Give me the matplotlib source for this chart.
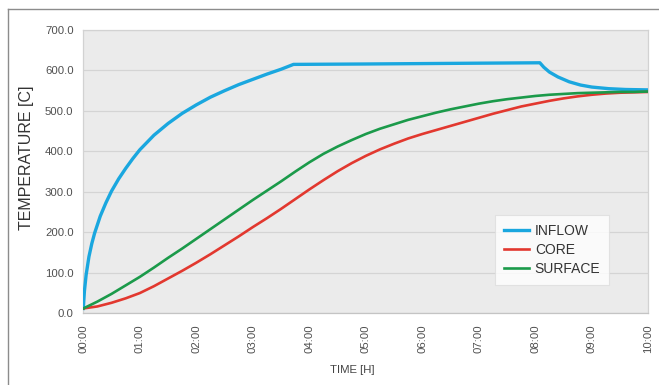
#!/usr/bin/env python3
"""
Temperature curves: INFLOW / CORE / SURFACE over 10 hours
"""

import matplotlib
matplotlib.use("Agg")
import matplotlib.pyplot as plt
from matplotlib.lines import Line2D

# time in hours, temperature in C
inflow_t = [0, 0.02, 0.05, 0.1, 0.15, 0.2, 0.3, 0.4, 0.5, 0.625, 0.75,
            0.875, 1.0, 1.25, 1.5, 1.75, 2.0, 2.25, 2.5, 2.75, 3.0, 3.25,
            3.5, 3.72, 5.0, 6.0, 7.0, 8.08, 8.15, 8.25, 8.4, 8.6, 8.8, 9.0,
            9.3, 9.6, 10.0]
inflow_v = [12, 55, 95, 140, 172, 198, 240, 273, 302, 332, 358,
            382, 404, 440, 469, 494, 515, 534, 550, 565, 578, 591,
            603, 615, 616, 617, 618, 619, 608, 596, 584, 572, 564, 559,
            555, 553, 552]

step_t = [0, 0.25, 0.5, 0.75, 1.0, 1.25, 1.5, 1.75, 2.0, 2.25, 2.5, 2.75,
          3.0, 3.25, 3.5, 3.75, 4.0, 4.25, 4.5, 4.75, 5.0, 5.25, 5.5, 5.75,
          6.0, 6.25, 6.5, 6.75, 7.0, 7.25, 7.5, 7.75, 8.0, 8.25, 8.5, 8.75,
          9.0, 9.25, 9.5, 9.75, 10.0]
core_v = [12, 17, 26, 37, 50, 67, 86, 105, 125, 146, 168, 190,
          213, 235, 258, 282, 306, 329, 351, 371, 389, 405, 419, 432,
          443, 453, 463, 473, 483, 493, 502, 511, 518, 525, 531, 536,
          540, 543, 545, 546, 547]
surface_v = [12, 29, 48, 69, 90, 113, 137, 160, 184, 208, 232, 256,
             280, 303, 326, 350, 373, 394, 412, 428, 443, 456, 467, 478,
             487, 496, 504, 511, 518, 524, 529, 533, 537, 540, 542, 544,
             545, 546, 547, 547, 548]

hour_ticks = list(range(0, 11))
hour_labels = [f"{h:02d}:00" for h in hour_ticks]
temp_ticks = list(range(0, 701, 100))

BLUE = "#1aa7df"
RED = "#e2382f"
GREEN = "#1b9a4a"


def plot_curves():
    plt.rcParams["font.family"] = ["Liberation Sans", "DejaVu Sans"]
    fig = plt.figure(figsize=(6.59, 3.85), dpi=100)
    ax = fig.add_axes([0.1264, 0.1862, 0.8574, 0.7359])
    ax.set_facecolor("#ebebeb")

    ax.plot(inflow_t, inflow_v, color=BLUE, lw=2.4, label="INFLOW",
            solid_joinstyle="round", zorder=3)
    ax.plot(step_t, core_v, color=RED, lw=1.9, label="CORE", zorder=3)
    ax.plot(step_t, surface_v, color=GREEN, lw=1.9, label="SURFACE", zorder=4)

    ax.set_xlim(0, 10)
    ax.set_ylim(0, 700)
    ax.set_xticks(hour_ticks)
    ax.set_xticklabels(hour_labels, rotation=90)
    ax.set_yticks(temp_ticks)
    ax.set_yticklabels([f"{v:.1f}" for v in temp_ticks])
    ax.tick_params(axis="both", length=0, labelsize=8.2, colors="#505050")
    ax.tick_params(axis="y", pad=7)
    ax.tick_params(axis="x", pad=8)

    ax.grid(axis="y", color="#d4d4d4", lw=0.9)
    ax.set_axisbelow(True)
    for side, spine in ax.spines.items():
        spine.set_color("#d2d2d2")
        spine.set_linewidth(0.9)
    ax.spines["bottom"].set_color("#c4c4c4")

    ax.set_ylabel("TEMPERATURE [C]", fontsize=11.5, color="#333333")
    ax.yaxis.set_label_coords(-0.088, 0.55)
    fig.text(352 / 659, 1 - 370 / 385, "TIME [H]", fontsize=8.2,
             color="#444444", ha="center", va="center")

    leg = ax.legend(loc="upper left", bbox_to_anchor=(0.729, 0.347),
                    fontsize=10, frameon=True, fancybox=False,
                    handlelength=1.8, handletextpad=0.4, labelspacing=0.35,
                    borderpad=0.65, borderaxespad=0)
    leg.get_frame().set_edgecolor("#dddddd")
    leg.get_frame().set_linewidth(0.8)
    for txt in leg.get_texts():
        txt.set_color("#333333")

    # outer frame lines (top and left)
    fig.add_artist(Line2D([8 / 659, 1], [1 - 9 / 385, 1 - 9 / 385],
                          transform=fig.transFigure, color="#8c8c8c", lw=1))
    fig.add_artist(Line2D([8 / 659, 8 / 659], [0, 1 - 9 / 385],
                          transform=fig.transFigure, color="#8c8c8c", lw=1))

    fig.savefig("out.png", dpi=100)


def main():
    plot_curves()


if __name__ == "__main__":
    main()
